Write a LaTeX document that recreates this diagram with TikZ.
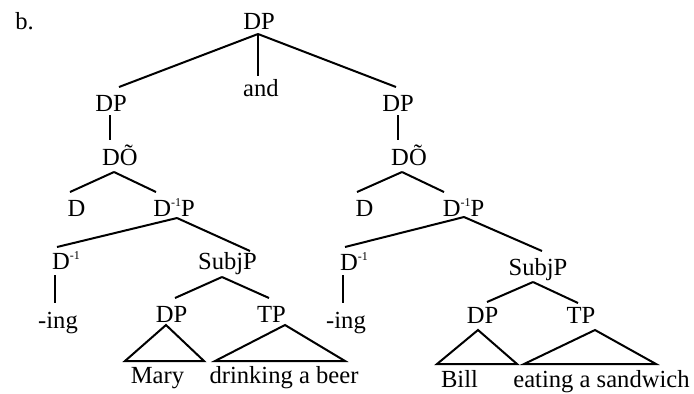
\documentclass[tikz,border=0pt]{standalone}
\usepackage{fontspec}
\setmainfont{Liberation Serif}
\usetikzlibrary{calc}
\newcommand{\minusone}{\raisebox{4.6pt}{\fontsize{6}{7}\selectfont -1}}
\begin{document}
\begin{tikzpicture}[x=0.5pt,y=-0.5pt,
  tn/.style={anchor=base,inner sep=0pt,font=\fontsize{12.3}{14}\selectfont},
  br/.style={line width=1pt}]
\useasboundingbox (0,0) rectangle (694,393);
% labels
\node[tn,anchor=base west] (lbl) at (15,29) {b.};
\node[tn] (top) at (259,29) {DP};
\node[tn] (and) at (261,96) {and};
\node[tn] (dpL) at (111,111) {DP};
\node[tn] (dpR) at (398,111) {DP};
\node[tn] (dotL) at (120,165) {DÕ};
\node[tn] (dotR) at (409,165) {DÕ};
\node[tn] (dL) at (76.5,216) {D};
\node[tn] (dipL) at (174,216) {D\minusone P};
\node[tn] (dR) at (364.5,216) {D};
\node[tn] (dipR) at (463.5,216) {D\minusone P};
\node[tn] (diL) at (66,269) {D\minusone};
\node[tn] (diR) at (354,270) {D\minusone};
\node[tn] (subjL) at (227.5,269) {SubjP};
\node[tn] (subjR) at (538,275) {SubjP};
\node[tn] (ingL) at (58,328) {-ing};
\node[tn] (ingR) at (346,328) {-ing};
\node[tn] (dpLL) at (171.5,322) {DP};
\node[tn] (tpL) at (271.5,322) {TP};
\node[tn] (dpRR) at (482.5,323) {DP};
\node[tn] (tpR) at (581,323) {TP};
\node[tn] (mary) at (157.5,383) {Mary};
\node[tn] (drink) at (284,383) {drinking a beer};
\node[tn] (bill) at (459.5,387) {Bill};
\node[tn] (eat) at (601.5,387) {eating a sandwich};
% branches
\draw[br] ($(top.base)+(-1,5)$) -- ($(dpL.base)+(8,-24)$);
\draw[br] ($(top.base)+(-1,5)$) -- ($(and.base)+(-3,-20)$);
\draw[br] ($(top.base)+(-1,5)$) -- ($(dpR.base)+(-2,-24)$);
\draw[br] ($(dpL.base)+(-1,4)$) -- ($(dotL.base)+(-10,-25)$);
\draw[br] ($(dpR.base)+(0,4)$) -- ($(dotR.base)+(-11,-25)$);
\draw[br] ($(dotL.base)+(-6,7)$) -- ($(dL.base)+(-6.5,-24)$);
\draw[br] ($(dotL.base)+(-6,7)$) -- ($(dipL.base)+(-18,-24)$);
\draw[br] ($(dotR.base)+(-7,7)$) -- ($(dR.base)+(-7.5,-24)$);
\draw[br] ($(dotR.base)+(-7,7)$) -- ($(dipR.base)+(-19.5,-24)$);
\draw[br] ($(dipL.base)+(3,2)$) -- ($(diL.base)+(-9,-22)$);
\draw[br] ($(dipL.base)+(3,2)$) -- ($(subjL.base)+(22.5,-18)$);
\draw[br] ($(dipR.base)+(0.5,1)$) -- ($(diR.base)+(-9,-23)$);
\draw[br] ($(dipR.base)+(0.5,1)$) -- ($(subjR.base)+(4,-24)$);
\draw[br] ($(diL.base)+(-11,6)$) -- ($(ingL.base)+(-3,-25)$);
\draw[br] ($(diR.base)+(-11,5)$) -- ($(ingR.base)+(-3,-25)$);
\draw[br] ($(subjL.base)+(-5.5,8)$) -- ($(dpLL.base)+(3.5,-24)$);
\draw[br] ($(subjL.base)+(-5.5,8)$) -- ($(tpL.base)+(-2.5,-24)$);
\draw[br] ($(subjR.base)+(-5,7)$) -- ($(dpRR.base)+(4.5,-21)$);
\draw[br] ($(subjR.base)+(-5,7)$) -- ($(tpR.base)+(-3,-20)$);
% triangles
\draw[br] ($(dpLL.base)+(-5.5,3)$) -- ($(mary.base)+(-32.5,-22)$) -- ($(mary.base)+(46.5,-22)$) -- cycle;
\draw[br] ($(tpL.base)+(13.5,3)$) -- ($(drink.base)+(-69,-22)$) -- ($(drink.base)+(61,-22)$) -- cycle;
\draw[br] ($(dpRR.base)+(-4.5,7)$) -- ($(bill.base)+(-22.5,-23)$) -- ($(bill.base)+(57.5,-23)$) -- cycle;
\draw[br] ($(tpR.base)+(14,7)$) -- ($(eat.base)+(-77.5,-23)$) -- ($(eat.base)+(54.5,-23)$) -- cycle;
\end{tikzpicture}
\end{document}
